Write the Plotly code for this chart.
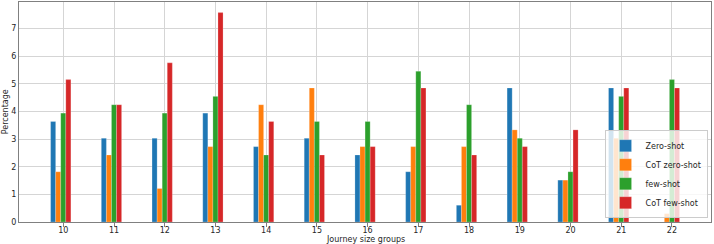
import plotly.graph_objects as go

groups = list(range(10, 23))
zero_shot = [3.636, 3.030, 3.030, 3.939, 2.727, 3.030, 2.424, 1.818, 0.606, 4.848, 1.515, 4.848, 0.0]
cot_zero_shot = [1.818, 2.424, 1.212, 2.727, 4.242, 4.848, 2.727, 2.727, 2.727, 3.333, 1.515, 3.030, 0.303]
few_shot = [3.939, 4.242, 3.939, 4.545, 2.424, 3.636, 3.636, 5.455, 4.242, 3.030, 1.818, 4.545, 5.152]
cot_few_shot = [5.152, 4.242, 5.758, 7.576, 3.636, 2.424, 2.727, 4.848, 2.424, 2.727, 3.333, 4.848, 4.848]

series = [
    ("Zero-shot", zero_shot, "#1f77b4"),
    ("CoT zero-shot", cot_zero_shot, "#ff7f0e"),
    ("few-shot", few_shot, "#2ca02c"),
    ("CoT few-shot", cot_few_shot, "#d62728"),
]

x_title = "Journey size groups"
y_title = "Percentage"
FS = 8
TXT = "#262626"

fig = go.Figure()
bar_w = 0.1
for k, (name, vals, color) in enumerate(series):
    fig.add_trace(go.Bar(
        x=groups, y=vals, name=name, width=bar_w, offset=-0.25 + k * bar_w,
        marker=dict(color=color, line=dict(width=0.6, color="rgba(255,255,255,0.35)")),
    ))

axis_common = dict(
    showgrid=True, gridcolor="#d5d5d5", gridwidth=1,
    showline=True, linecolor="#808080", linewidth=1, mirror=True,
    ticks="", ticklen=0,
    tickfont=dict(family="DejaVu Sans", size=FS, color=TXT),
    zeroline=False, automargin=False,
)

fig.update_layout(
    width=714, height=244,
    margin=dict(l=19, r=3, t=2, b=22),
    paper_bgcolor="white", plot_bgcolor="white",
    barmode="overlay",
    font=dict(family="DejaVu Sans", size=FS, color=TXT),
    xaxis=dict(range=[9.127, 22.77], tickvals=groups, ticktext=[str(g) for g in groups],
               minor=dict(tickvals=groups, ticks="outside", ticklen=3.5, tickcolor="#808080",
                          showgrid=False),
               **axis_common),
    yaxis=dict(range=[0, 7.96], dtick=1, tick0=0,
               minor=dict(dtick=1, tick0=0, ticks="outside", ticklen=3.5, tickcolor="#808080",
                          showgrid=False),
               **axis_common),
    legend=dict(x=0.995, y=0.017, xanchor="right", yanchor="bottom",
                bgcolor="rgba(255,255,255,0.8)", bordercolor="#cccccc", borderwidth=1,
                font=dict(family="DejaVu Sans", size=FS, color=TXT), tracegroupgap=0,
                itemwidth=30),
    showlegend=True,
    annotations=[
        dict(text=x_title, xref="paper", yref="paper", x=0.5, y=-0.0773,
             xanchor="center", yanchor="middle", showarrow=False,
             font=dict(family="DejaVu Sans", size=FS, color=TXT)),
        dict(text=y_title, xref="paper", yref="paper", x=-0.0198, y=0.5,
             xanchor="center", yanchor="middle", textangle=-90, showarrow=False,
             font=dict(family="DejaVu Sans", size=FS, color=TXT)),
    ],
)

fig.write_html("out.html")
